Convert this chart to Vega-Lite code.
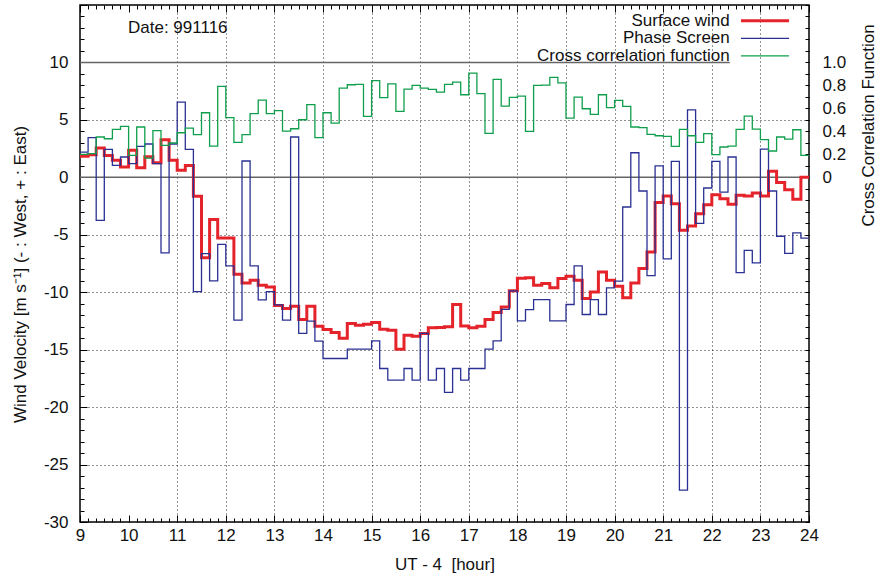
{
  "$schema": "https://vega.github.io/schema/vega-lite/v6.json",
  "width": 729,
  "height": 517,
  "autosize": {"type": "none"},
  "padding": {"left": 80, "top": 5, "right": 71, "bottom": 57},
  "datasets": {
    "d": [
      {"t": 9, "sw": 1.83, "ps": 2.20, "cc": 0.200},
      {"t": 9.1667, "sw": 1.97, "ps": 3.45, "cc": 0.206},
      {"t": 9.3333, "sw": 2.55, "ps": -3.74, "cc": 0.351},
      {"t": 9.5, "sw": 1.91, "ps": 2.43, "cc": 0.336},
      {"t": 9.6667, "sw": 1.48, "ps": 1.04, "cc": 0.417},
      {"t": 9.8333, "sw": 0.90, "ps": 1.77, "cc": 0.443},
      {"t": 10, "sw": 2.35, "ps": 1.19, "cc": 0.191},
      {"t": 10.1667, "sw": 0.84, "ps": 2.70, "cc": 0.438},
      {"t": 10.3333, "sw": 1.80, "ps": 2.90, "cc": 0.168},
      {"t": 10.5, "sw": 1.28, "ps": 1.19, "cc": 0.406},
      {"t": 10.6667, "sw": 3.28, "ps": -6.58, "cc": 0.278},
      {"t": 10.8333, "sw": 1.48, "ps": 2.90, "cc": 0.299},
      {"t": 11, "sw": 0.61, "ps": 6.55, "cc": 0.388},
      {"t": 11.1667, "sw": 1.04, "ps": 2.43, "cc": 0.429},
      {"t": 11.3333, "sw": -1.65, "ps": -9.94, "cc": 0.371},
      {"t": 11.5, "sw": -6.99, "ps": -6.64, "cc": 0.562},
      {"t": 11.6667, "sw": -3.68, "ps": -9.01, "cc": 0.272},
      {"t": 11.8333, "sw": -5.28, "ps": -5.83, "cc": 0.791},
      {"t": 12, "sw": -5.28, "ps": -7.71, "cc": 0.519},
      {"t": 12.1667, "sw": -8.43, "ps": -12.43, "cc": 0.304},
      {"t": 12.3333, "sw": -9.19, "ps": 1.42, "cc": 0.371},
      {"t": 12.5, "sw": -8.96, "ps": -7.71, "cc": 0.554},
      {"t": 12.6667, "sw": -9.39, "ps": -10.67, "cc": 0.672},
      {"t": 12.8333, "sw": -9.54, "ps": -9.94, "cc": 0.554},
      {"t": 13, "sw": -11.16, "ps": -11.10, "cc": 0.580},
      {"t": 13.1667, "sw": -11.42, "ps": -12.43, "cc": 0.403},
      {"t": 13.3333, "sw": -11.22, "ps": 3.51, "cc": 0.423},
      {"t": 13.5, "sw": -12.38, "ps": -13.59, "cc": 0.501},
      {"t": 13.6667, "sw": -11.22, "ps": -12.52, "cc": 0.632},
      {"t": 13.8333, "sw": -12.96, "ps": -14.26, "cc": 0.345},
      {"t": 14, "sw": -13.25, "ps": -15.77, "cc": 0.562},
      {"t": 14.1667, "sw": -13.50, "ps": -15.77, "cc": 0.472},
      {"t": 14.3333, "sw": -14.00, "ps": -15.77, "cc": 0.777},
      {"t": 14.5, "sw": -12.72, "ps": -14.96, "cc": 0.806},
      {"t": 14.6667, "sw": -12.87, "ps": -14.96, "cc": 0.809},
      {"t": 14.8333, "sw": -12.78, "ps": -14.96, "cc": 0.530},
      {"t": 15, "sw": -12.64, "ps": -14.23, "cc": 0.841},
      {"t": 15.1667, "sw": -13.22, "ps": -16.64, "cc": 0.693},
      {"t": 15.3333, "sw": -13.30, "ps": -17.65, "cc": 0.814},
      {"t": 15.5, "sw": -14.96, "ps": -17.65, "cc": 0.574},
      {"t": 15.6667, "sw": -13.74, "ps": -16.64, "cc": 0.768},
      {"t": 15.8333, "sw": -13.83, "ps": -17.65, "cc": 0.800},
      {"t": 16, "sw": -13.59, "ps": -13.59, "cc": 0.777},
      {"t": 16.1667, "sw": -13.10, "ps": -17.65, "cc": 0.765},
      {"t": 16.3333, "sw": -13.07, "ps": -16.64, "cc": 0.742},
      {"t": 16.5, "sw": -13.01, "ps": -18.72, "cc": 0.809},
      {"t": 16.6667, "sw": -11.07, "ps": -16.64, "cc": 0.829},
      {"t": 16.8333, "sw": -12.93, "ps": -17.65, "cc": 0.719},
      {"t": 17, "sw": -13.10, "ps": -16.64, "cc": 0.907},
      {"t": 17.1667, "sw": -12.96, "ps": -16.64, "cc": 0.728},
      {"t": 17.3333, "sw": -12.38, "ps": -14.96, "cc": 0.383},
      {"t": 17.5, "sw": -11.77, "ps": -14.23, "cc": 0.852},
      {"t": 17.6667, "sw": -11.28, "ps": -11.50, "cc": 0.620},
      {"t": 17.8333, "sw": -9.88, "ps": -9.88, "cc": 0.696},
      {"t": 18, "sw": -8.78, "ps": -12.49, "cc": 0.707},
      {"t": 18.1667, "sw": -8.75, "ps": -11.51, "cc": 0.400},
      {"t": 18.3333, "sw": -9.39, "ps": -10.64, "cc": 0.800},
      {"t": 18.5, "sw": -9.25, "ps": -10.64, "cc": 0.803},
      {"t": 18.6667, "sw": -9.62, "ps": -12.49, "cc": 0.870},
      {"t": 18.8333, "sw": -8.81, "ps": -12.49, "cc": 0.823},
      {"t": 19, "sw": -8.61, "ps": -11.07, "cc": 0.516},
      {"t": 19.1667, "sw": -8.96, "ps": -7.71, "cc": 0.699},
      {"t": 19.3333, "sw": -10.55, "ps": -11.94, "cc": 0.597},
      {"t": 19.5, "sw": -9.97, "ps": -10.64, "cc": 0.548},
      {"t": 19.6667, "sw": -8.23, "ps": -11.94, "cc": 0.719},
      {"t": 19.8333, "sw": -8.96, "ps": -9.62, "cc": 0.606},
      {"t": 20, "sw": -9.48, "ps": -9.04, "cc": 0.670},
      {"t": 20.1667, "sw": -10.49, "ps": -2.58, "cc": 0.617},
      {"t": 20.3333, "sw": -9.19, "ps": 2.14, "cc": 0.438},
      {"t": 20.5, "sw": -7.94, "ps": -1.19, "cc": 0.432},
      {"t": 20.6667, "sw": -6.49, "ps": -8.55, "cc": 0.374},
      {"t": 20.8333, "sw": -2.20, "ps": 0.99, "cc": 0.362},
      {"t": 21, "sw": -1.62, "ps": -7.10, "cc": 0.357},
      {"t": 21.1667, "sw": -2.29, "ps": 1.39, "cc": 0.270},
      {"t": 21.3333, "sw": -4.61, "ps": -27.22, "cc": 0.417},
      {"t": 21.5, "sw": -4.23, "ps": 5.88, "cc": 0.362},
      {"t": 21.6667, "sw": -3.16, "ps": -4.00, "cc": 0.304},
      {"t": 21.8333, "sw": -2.38, "ps": -0.93, "cc": 0.380},
      {"t": 22, "sw": -1.51, "ps": 1.39, "cc": 0.197},
      {"t": 22.1667, "sw": -1.86, "ps": -1.28, "cc": 0.264},
      {"t": 22.3333, "sw": -2.35, "ps": 1.77, "cc": 0.272},
      {"t": 22.5, "sw": -1.57, "ps": -8.29, "cc": 0.417},
      {"t": 22.6667, "sw": -1.62, "ps": -6.35, "cc": 0.533},
      {"t": 22.8333, "sw": -1.36, "ps": -7.45, "cc": 0.420},
      {"t": 23, "sw": -1.62, "ps": 2.46, "cc": 0.328},
      {"t": 23.1667, "sw": 0.52, "ps": -1.19, "cc": 0.229},
      {"t": 23.3333, "sw": -0.46, "ps": -5.13, "cc": 0.351},
      {"t": 23.5, "sw": -1.07, "ps": -6.61, "cc": 0.333},
      {"t": 23.6667, "sw": -1.91, "ps": -4.84, "cc": 0.414},
      {"t": 23.8333, "sw": 0.0, "ps": -5.30, "cc": 0.191},
      {"t": 24, "sw": 0.0, "ps": -5.30, "cc": 0.191}
    ]
  },
  "data": {"name": "d"},
  "resolve": {"scale": {"y": "independent"}, "axis": {"x": "independent", "y": "independent"}},
  "config": {
    "font": "Liberation Sans",
    "view": {"stroke": "#000", "strokeWidth": 1.5},
    "axis": {
      "labelFont": "Liberation Sans", "labelFontSize": 17, "labelColor": "#111",
      "titleFont": "Liberation Sans", "titleFontSize": 17, "titleFontWeight": "normal", "titleColor": "#111",
      "domain": false, "grid": false, "ticks": false, "labels": false,
      "tickColor": "#000", "tickWidth": 1, "labelFlush": false, "labelOverlap": false
    }
  },
  "layer": [
    {
      "data": {"values": [{}]},
      "mark": {"type": "rule", "color": "#666", "strokeWidth": 1.5},
      "encoding": {
        "y": {"datum": 0, "type": "quantitative", "scale": {"domain": [-30, 15], "nice": false, "zero": false},
          "axis": {"orient": "left", "values": [-30, -25, -20, -15, -10, -5, 0, 5, 10], "labels": true, "labelPadding": 12,
            "labelExpr": "'' + datum.value",
            "title": "Wind Velocity [m s⁻¹] (- : West, + : East)", "titleX": -60, "titleY": 269, "titleAngle": 270, "titleBaseline": "middle"}}
      }
    },
    {
      "data": {"values": [{}]},
      "mark": {"type": "rule", "color": "#666", "strokeWidth": 1.5},
      "encoding": {
        "x": {"datum": 9, "type": "quantitative", "scale": {"domain": [9, 24], "nice": false, "zero": false},
          "axis": {"orient": "bottom", "values": [9, 10, 11, 12, 13, 14, 15, 16, 17, 18, 19, 20, 21, 22, 23, 24], "labels": true, "labelPadding": 5,
            "title": "UT - 4\u00a0 [hour]", "titleY": 42, "titleBaseline": "middle"}},
        "x2": {"datum": 22.37},
        "y": {"datum": 10, "type": "quantitative", "scale": {"domain": [-30, 15], "nice": false, "zero": false},
          "axis": {"orient": "left", "values": [-30, -25, -20, -15, -10, -5, 0, 5, 10, 15], "ticks": true, "tickSize": -7, "title": null}}
      }
    },
    {
      "mark": {"type": "line", "interpolate": "step-after", "color": "#e5232b", "strokeWidth": 3},
      "encoding": {
        "x": {"field": "t", "type": "quantitative", "scale": {"domain": [9, 24], "nice": false, "zero": false},
          "axis": {"orient": "bottom", "values": [9, 10, 11, 12, 13, 14, 15, 16, 17, 18, 19, 20, 21, 22, 23, 24], "ticks": true, "tickSize": -7, "title": null}},
        "y": {"field": "sw", "type": "quantitative", "scale": {"domain": [-30, 15], "nice": false, "zero": false},
          "axis": {"orient": "left", "values": [-25, -20, -15, -10, -5, 5], "grid": true, "gridDash": [1, 3], "gridColor": "#000", "gridWidth": 1, "gridOpacity": 0.85, "title": null}}
      }
    },
    {
      "mark": {"type": "line", "interpolate": "step-after", "color": "#2a3192", "strokeWidth": 1.3},
      "encoding": {
        "x": {"field": "t", "type": "quantitative", "scale": {"domain": [9, 24], "nice": false, "zero": false},
          "axis": {"orient": "bottom", "ticks": true, "tickSize": -4, "title": null,
            "values": [9, 9.1667, 9.3333, 9.5, 9.6667, 9.8333, 10, 10.1667, 10.3333, 10.5, 10.6667, 10.8333, 11, 11.1667, 11.3333, 11.5, 11.6667, 11.8333, 12, 12.1667, 12.3333, 12.5, 12.6667, 12.8333, 13, 13.1667, 13.3333, 13.5, 13.6667, 13.8333, 14, 14.1667, 14.3333, 14.5, 14.6667, 14.8333, 15, 15.1667, 15.3333, 15.5, 15.6667, 15.8333, 16, 16.1667, 16.3333, 16.5, 16.6667, 16.8333, 17, 17.1667, 17.3333, 17.5, 17.6667, 17.8333, 18, 18.1667, 18.3333, 18.5, 18.6667, 18.8333, 19, 19.1667, 19.3333, 19.5, 19.6667, 19.8333, 20, 20.1667, 20.3333, 20.5, 20.6667, 20.8333, 21, 21.1667, 21.3333, 21.5, 21.6667, 21.8333, 22, 22.1667, 22.3333, 22.5, 22.6667, 22.8333, 23, 23.1667, 23.3333, 23.5, 23.6667, 23.8333, 24]}},
        "y": {"field": "ps", "type": "quantitative", "scale": {"domain": [-30, 15], "nice": false, "zero": false},
          "axis": {"orient": "left", "ticks": true, "tickSize": -4, "title": null,
            "values": [-30, -29, -28, -27, -26, -25, -24, -23, -22, -21, -20, -19, -18, -17, -16, -15, -14, -13, -12, -11, -10, -9, -8, -7, -6, -5, -4, -3, -2, -1, 0, 1, 2, 3, 4, 5, 6, 7, 8, 9, 10, 11, 12, 13, 14, 15]}}
      }
    },
    {
      "mark": {"type": "line", "interpolate": "step-after", "color": "#0f9f4c", "strokeWidth": 1.3},
      "encoding": {
        "x": {"field": "t", "type": "quantitative", "scale": {"domain": [9, 24], "nice": false, "zero": false},
          "axis": {"orient": "top", "values": [9, 10, 11, 12, 13, 14, 15, 16, 17, 18, 19, 20, 21, 22, 23, 24], "ticks": true, "tickSize": -7, "title": null}},
        "y": {"field": "cc", "type": "quantitative", "scale": {"domain": [-3, 1.5], "nice": false, "zero": false},
          "axis": {"orient": "right", "values": [0, 0.2, 0.4, 0.6, 0.8, 1.0], "labels": true, "labelPadding": 13, "labelAlign": "left",
            "labelExpr": "datum.value == 0 ? '0' : format(datum.value, '.1f')",
            "title": "Cross Correlation Function", "titleX": 59, "titleY": 120, "titleAngle": 270, "titleBaseline": "middle"}}
      }
    },
    {
      "data": {"values": [{}]},
      "mark": {"type": "rule", "color": "#e5232b", "strokeWidth": 3},
      "encoding": {
        "x": {"datum": 22.6, "type": "quantitative",
          "axis": {"orient": "top", "ticks": true, "tickSize": -4, "title": null,
            "values": [9, 9.1667, 9.3333, 9.5, 9.6667, 9.8333, 10, 10.1667, 10.3333, 10.5, 10.6667, 10.8333, 11, 11.1667, 11.3333, 11.5, 11.6667, 11.8333, 12, 12.1667, 12.3333, 12.5, 12.6667, 12.8333, 13, 13.1667, 13.3333, 13.5, 13.6667, 13.8333, 14, 14.1667, 14.3333, 14.5, 14.6667, 14.8333, 15, 15.1667, 15.3333, 15.5, 15.6667, 15.8333, 16, 16.1667, 16.3333, 16.5, 16.6667, 16.8333, 17, 17.1667, 17.3333, 17.5, 17.6667, 17.8333, 18, 18.1667, 18.3333, 18.5, 18.6667, 18.8333, 19, 19.1667, 19.3333, 19.5, 19.6667, 19.8333, 20, 20.1667, 20.3333, 20.5, 20.6667, 20.8333, 21, 21.1667, 21.3333, 21.5, 21.6667, 21.8333, 22, 22.1667, 22.3333, 22.5, 22.6667, 22.8333, 23, 23.1667, 23.3333, 23.5, 23.6667, 23.8333, 24]}},
        "x2": {"datum": 23.59},
        "y": {"datum": 13.63, "type": "quantitative", "scale": {"domain": [-30, 15], "nice": false, "zero": false},
          "axis": {"orient": "right", "ticks": true, "tickSize": -4, "title": null,
            "values": [-30, -29, -28, -27, -26, -25, -24, -23, -22, -21, -20, -19, -18, -17, -16, -15, -14, -13, -12, -11, -10, -9, -8, -7, -6, -5, -4, -3, -2, -1, 0, 1, 2, 3, 4, 5, 6, 7, 8, 9, 10, 11, 12, 13, 14, 15]}}
      }
    },
    {
      "data": {"values": [{}]},
      "mark": {"type": "rule", "color": "#2a3192", "strokeWidth": 1.3},
      "encoding": {
        "x": {"datum": 22.6, "type": "quantitative",
          "axis": {"orient": "bottom", "values": [11, 12, 13, 14, 15, 16, 17, 18, 19, 20, 21, 22, 23], "grid": true, "gridDash": [1, 3], "gridColor": "#000", "gridWidth": 1, "gridOpacity": 0.85, "title": null}},
        "x2": {"datum": 23.59},
        "y": {"datum": 12.1, "type": "quantitative", "scale": {"domain": [-30, 15], "nice": false, "zero": false}, "axis": null}
      }
    },
    {
      "data": {"values": [{}]},
      "mark": {"type": "rule", "color": "#0f9f4c", "strokeWidth": 1.3},
      "encoding": {
        "x": {"datum": 22.6, "type": "quantitative", "axis": null},
        "x2": {"datum": 23.59},
        "y": {"datum": 10.57, "type": "quantitative", "scale": {"domain": [-30, 15], "nice": false, "zero": false}, "axis": null}
      }
    },
    {
      "data": {"values": [{}]},
      "mark": {"type": "text", "align": "right", "baseline": "middle", "font": "Liberation Sans", "fontSize": 17, "color": "#111"},
      "encoding": {
        "text": {"value": "Surface wind"},
        "x": {"datum": 22.37, "type": "quantitative", "axis": null},
        "y": {"datum": 13.63, "type": "quantitative", "scale": {"domain": [-30, 15], "nice": false, "zero": false}, "axis": null}
      }
    },
    {
      "data": {"values": [{}]},
      "mark": {"type": "text", "align": "right", "baseline": "middle", "font": "Liberation Sans", "fontSize": 17, "color": "#111"},
      "encoding": {
        "text": {"value": "Phase Screen"},
        "x": {"datum": 22.37, "type": "quantitative", "axis": null},
        "y": {"datum": 12.1, "type": "quantitative", "scale": {"domain": [-30, 15], "nice": false, "zero": false}, "axis": null}
      }
    },
    {
      "data": {"values": [{}]},
      "mark": {"type": "text", "align": "right", "baseline": "middle", "font": "Liberation Sans", "fontSize": 17, "color": "#111"},
      "encoding": {
        "text": {"value": "Cross correlation function"},
        "x": {"datum": 22.37, "type": "quantitative", "axis": null},
        "y": {"datum": 10.57, "type": "quantitative", "scale": {"domain": [-30, 15], "nice": false, "zero": false}, "axis": null}
      }
    },
    {
      "data": {"values": [{}]},
      "mark": {"type": "text", "align": "left", "baseline": "middle", "font": "Liberation Sans", "fontSize": 17, "color": "#111"},
      "encoding": {
        "text": {"value": "Date: 991116"},
        "x": {"datum": 9.988, "type": "quantitative", "axis": null},
        "y": {"datum": 13.04, "type": "quantitative", "scale": {"domain": [-30, 15], "nice": false, "zero": false}, "axis": null}
      }
    }
  ]
}
